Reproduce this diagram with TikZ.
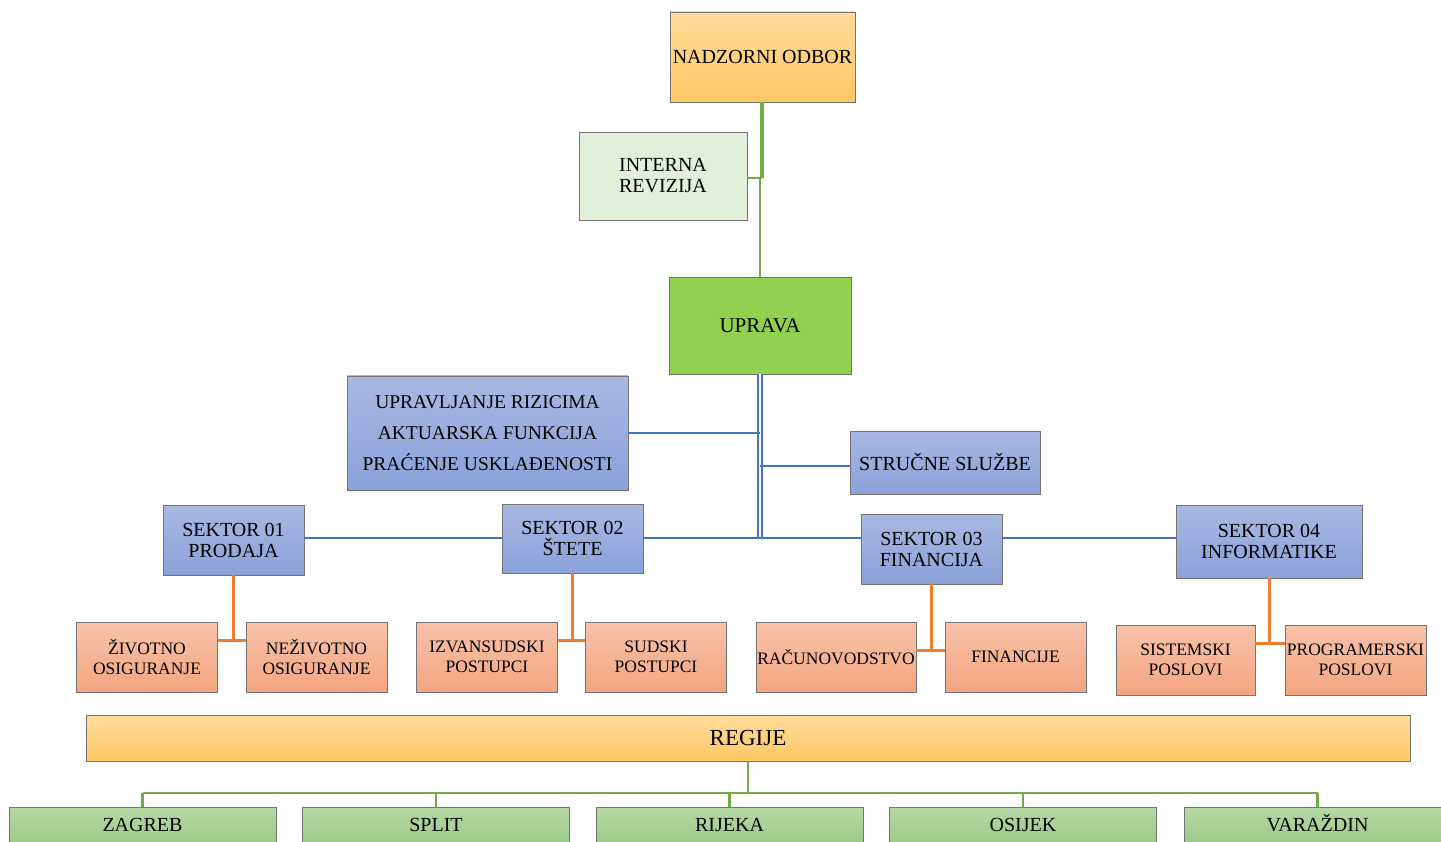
\documentclass[tikz,border=0pt]{standalone}
\usepackage{fontspec}
\setmainfont{Liberation Serif}
\definecolor{ortop}{HTML}{FFDB9B}
\definecolor{orbot}{HTML}{FFC764}
\definecolor{bltop}{HTML}{A9B8E2}
\definecolor{blbot}{HTML}{8AA2D8}
\definecolor{satop}{HTML}{F8C2AA}
\definecolor{sabot}{HTML}{F4A580}
\definecolor{grtop}{HTML}{B6D9A6}
\definecolor{grbot}{HTML}{9BCA85}
\definecolor{revfill}{HTML}{E2EFD9}
\definecolor{upravafill}{HTML}{92D050}
\definecolor{lineblue}{HTML}{4472C4}
\definecolor{lineorange}{HTML}{ED7D31}
\definecolor{linegreen}{HTML}{70AD47}
\begin{document}
\begin{tikzpicture}[x=1pt,y=-1pt,
    box/.style={draw=black!55, line width=0.9pt, align=center, inner sep=0pt,
        font=\fontsize{20}{21}\selectfont},
    orbox/.style={box, top color=ortop, bottom color=orbot},
    blbox/.style={box, top color=bltop, bottom color=blbot},
    sabox/.style={box, top color=satop, bottom color=sabot,
        minimum width=141, minimum height=70, font=\fontsize{17.5}{19.5}\selectfont},
    citybox/.style={box, top color=grtop, bottom color=grbot,
        minimum width=267, minimum height=38, text height=14pt, text depth=3pt},
    blueline/.style={lineblue, line width=2.2pt},
    orangeline/.style={lineorange, line width=3pt},
    greenline/.style={linegreen, line width=2.2pt}]
\clip (0,0) rectangle (1441,842);
% top of the chart
\node[orbox, minimum width=185, minimum height=90] (nadzor) at (762.5,57) {NADZORNI ODBOR};
\node[box, fill=revfill, minimum width=168, minimum height=88] (revizija) at (663,176) {INTERNA\\REVIZIJA};
\node[box, fill=upravafill, minimum width=182, minimum height=97,
    font=\fontsize{21}{23}\selectfont] (uprava) at (760,325.5) {UPRAVA};
\coordinate (rev) at (762,178);
\draw[greenline, line width=4pt] (nadzor.south -| rev) -- (rev);
\draw[greenline] (revizija.east |- rev) -- (rev);
\draw[greenline] (rev) ++(-2,0) -- (uprava.north -| 760,0);
% sectors
\node[blbox, minimum width=281, minimum height=114,
    font=\fontsize{19.5}{31}\selectfont] (rizik) at (487.5,433)
    {UPRAVLJANJE RIZICIMA\\AKTUARSKA FUNKCIJA\\PRAĆENJE USKLAĐENOSTI};
\node[blbox, minimum width=190, minimum height=63] (struc) at (945,462.5) {STRUČNE SLUŽBE};
\node[blbox, minimum width=141, minimum height=70] (sek1) at (233.5,540) {SEKTOR 01\\PRODAJA};
\node[blbox, minimum width=141, minimum height=69] (sek2) at (572.5,538.5) {SEKTOR 02\\ŠTETE};
\node[blbox, minimum width=141, minimum height=70] (sek3) at (931.5,549) {SEKTOR 03\\FINANCIJA};
\node[blbox, minimum width=186, minimum height=73] (sek4) at (1269,541.5) {SEKTOR 04\\INFORMATIKE};
\coordinate (hub) at (760,538);
\draw[blueline, double=white, double distance=1.5pt] (uprava.south -| hub) -- (hub);
\draw[blueline] (rizik.east) -- (rizik.east -| hub);
\draw[blueline] (struc.west |- 0,466) -- (hub |- 0,466);
\draw[blueline] (sek1.east |- hub) -- (sek2.west |- hub)
    (sek2.east |- hub) -- (sek3.west |- hub)
    (sek3.east |- hub) -- (sek4.west |- hub);
% departments
\node[sabox] (ziv) at (147,657) {ŽIVOTNO\\OSIGURANJE};
\node[sabox] (nez) at (316.5,657) {NEŽIVOTNO\\OSIGURANJE};
\node[sabox] (izv) at (487,657) {IZVANSUDSKI\\POSTUPCI};
\node[sabox] (sud) at (656,657) {SUDSKI\\POSTUPCI};
\node[sabox, minimum width=160] (rac) at (836,657) {RAČUNOVODSTVO};
\node[sabox] (fin) at (1015.5,657) {FINANCIJE};
\node[sabox, minimum width=139] (sis) at (1185.5,660) {SISTEMSKI\\POSLOVI};
\node[sabox] (pro) at (1355.5,660) {PROGRAMERSKI\\POSLOVI};
\foreach \s/\a/\b/\y in {sek1/ziv/nez/640, sek2/izv/sud/640, sek3/rac/fin/650, sek4/sis/pro/643}
    \draw[orangeline] (\s.south) -- (\s.south |- 0,\y) (\a.east |- 0,\y) -- (\b.west |- 0,\y);
% regions
\node[orbox, minimum width=1324, minimum height=46, font=\fontsize{23}{25}\selectfont]
    (regije) at (748,738) {REGIJE};
\coordinate (bus) at (748,793);
\draw[greenline] (regije.south) -- (bus);
\foreach[count=\i] \c/\x in {ZAGREB/142.5, SPLIT/436, RIJEKA/729.5, OSIJEK/1023, VARAŽDIN/1317.5}
{
    \node[citybox] (grad\i) at (\x,826) {\c};
    \draw[greenline] (grad\i.north) -- (grad\i.north |- bus);
}
\draw[greenline] (grad1.north |- bus) -- (grad5.north |- bus);
\end{tikzpicture}
\end{document}
